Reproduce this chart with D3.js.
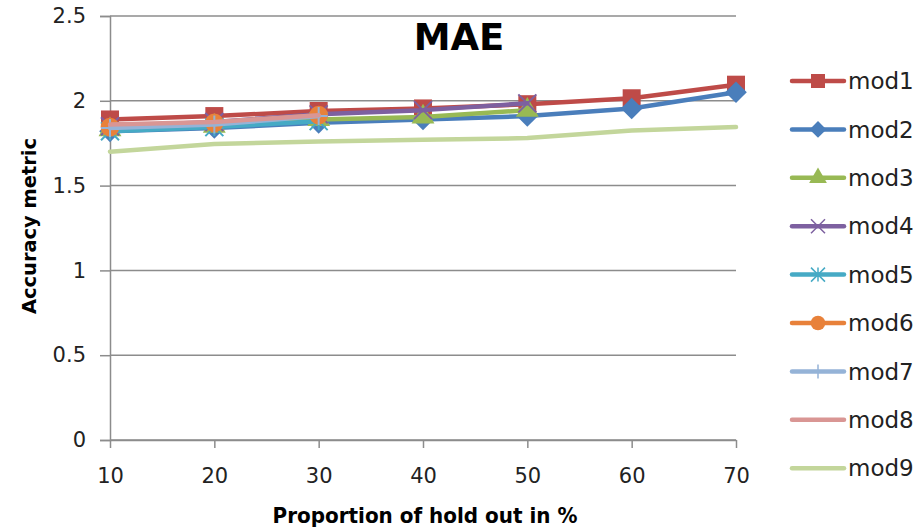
<!DOCTYPE html>
<html>
<head>
<meta charset="utf-8">
<script src="https://cdn.jsdelivr.net/npm/d3@7"></script>
<style>
  body { margin: 0; background: #fff; }
  svg { display: block; font-family: "DejaVu Sans", sans-serif; }
  .tick text { fill: #222; font-size: 21px; font-family: "DejaVu Sans", sans-serif; }
</style>
</head>
<body>
<svg id="chart" width="919" height="530"></svg>
<script>
// hold out proportions (x categories)
const holdOut = [10, 20, 30, 40, 50, 60, 70];
const yTicks = [0, 0.5, 1, 1.5, 2, 2.5];

// MAE per model
const mod1 = [1.89, 1.91, 1.94, 1.955, 1.98, 2.015, 2.095];
const mod2 = [1.82, 1.84, 1.87, 1.89, 1.91, 1.955, 2.05];
const mod3 = [1.83, 1.85, 1.89, 1.905, 1.945];
const mod4 = [1.85, 1.875, 1.92, 1.945, 1.985];
const mod5 = [1.82, 1.845, 1.88];
const mod6 = [1.845, 1.87, 1.915];
const mod7 = [1.84, 1.86, 1.91];
const mod8 = [1.86, 1.875, 1.915];
const mod9 = [1.70, 1.745, 1.76, 1.77, 1.78, 1.825, 1.845];

const seriesNames = ["mod1", "mod2", "mod3", "mod4", "mod5", "mod6", "mod7", "mod8", "mod9"];
const seriesValues = [mod1, mod2, mod3, mod4, mod5, mod6, mod7, mod8, mod9];
const colors = ["#BE4B48", "#4A7EBB", "#98B954", "#7D60A0", "#46AAC5", "#E8813A", "#95B3D7", "#D99694", "#C3D69B"];
const markers = ["square", "diamond", "triangle", "x", "star", "circle", "plus", null, null];

const svg = d3.select("#chart");
const margin = {top: 16, right: 183, bottom: 90, left: 110};
const W = 919, H = 530;

const x = d3.scaleLinear().domain([10, 70]).range([margin.left, W - margin.right]);
const y = d3.scaleLinear().domain([0, 2.5]).range([H - margin.bottom, margin.top]);

// horizontal gridlines + y axis
const yAxis = d3.axisLeft(y).tickValues(yTicks).tickFormat(d3.format("")).tickSize(10).tickPadding(14);
svg.append("g")
    .attr("transform", "translate(" + margin.left + ",0)")
    .call(yAxis)
    .call(g => g.select(".domain").attr("stroke", "#8c8c8c").attr("stroke-width", 1.5))
    .call(g => g.selectAll(".tick line").attr("stroke", "#8c8c8c").attr("stroke-width", 1.5));

svg.append("g")
    .selectAll("line")
    .data(yTicks)
    .join("line")
      .attr("x1", margin.left)
      .attr("x2", W - margin.right)
      .attr("y1", d => y(d))
      .attr("y2", d => y(d))
      .attr("stroke", "#8c8c8c")
      .attr("stroke-width", 1.5);

// x axis
const xAxis = d3.axisBottom(x).tickValues(holdOut).tickSizeInner(8).tickSizeOuter(0).tickPadding(20);
svg.append("g")
    .attr("transform", "translate(0," + y(0) + ")")
    .call(xAxis)
    .call(g => g.select(".domain").attr("stroke", "#8c8c8c").attr("stroke-width", 1.5))
    .call(g => g.selectAll(".tick line").attr("stroke", "#8c8c8c").attr("stroke-width", 1.5));

// marker shapes
function markerPath(type, s) {
    const h = s / 2;
    switch (type) {
        case "square": return d3.symbol(d3.symbolSquare, s * s)();
        case "diamond": { const r = h * 1.2; return `M0,${-r}L${r},0L0,${r}L${-r},0Z`; }
        case "triangle": return d3.symbol(d3.symbolTriangle, s * s * 0.7)();
        case "circle": return d3.symbol(d3.symbolCircle, s * s * 0.85)();
        case "x": return `M${-h},${-h}L${h},${h}M${-h},${h}L${h},${-h}`;
        case "plus": return `M${-h},0L${h},0M0,${-h}L0,${h}`;
        case "star": return `M${-h},${-h}L${h},${h}M${-h},${h}L${h},${-h}M0,${-h}L0,${h}`;
    }
    return null;
}
const isStroked = t => t === "x" || t === "plus" || t === "star";

const line = d3.line().x((d, i) => x(holdOut[i])).y(d => y(d));

const plot = svg.append("g");
seriesValues.forEach((vals, k) => {
    const g = plot.append("g").attr("class", "series " + seriesNames[k]);
    g.append("path")
        .attr("d", line(vals))
        .attr("fill", "none")
        .attr("stroke", colors[k])
        .attr("stroke-width", 4.5)
        .attr("stroke-linejoin", "round")
        .attr("stroke-linecap", "round");
    const m = markers[k];
    if (m) {
        g.selectAll("path.mk")
            .data(vals)
            .join("path")
              .attr("class", "mk")
              .attr("transform", (d, i) => "translate(" + x(holdOut[i]) + "," + y(d) + ")")
              .attr("d", markerPath(m, 18))
              .attr("fill", isStroked(m) ? "none" : colors[k])
              .attr("stroke", isStroked(m) ? colors[k] : "none")
              .attr("stroke-width", 2);
    }
});

// legend
const legend = svg.append("g");
seriesNames.forEach((name, k) => {
    const ly = 81 + k * 48.4;
    const g = legend.append("g").attr("transform", "translate(0," + ly + ")");
    g.append("line")
        .attr("x1", 792).attr("x2", 844)
        .attr("stroke", colors[k])
        .attr("stroke-width", 4.5)
        .attr("stroke-linecap", "round");
    const m = markers[k];
    if (m) {
        g.append("path")
            .attr("transform", "translate(818,0)")
            .attr("d", markerPath(m, 14))
            .attr("fill", isStroked(m) ? "none" : colors[k])
            .attr("stroke", isStroked(m) ? colors[k] : "none")
            .attr("stroke-width", 1.5);
    }
    g.append("text")
        .attr("x", 848)
        .attr("dy", "0.36em")
        .attr("font-size", 23)
        .attr("fill", "#222")
        .text(name);
});

// titles
svg.append("text")
    .attr("x", 459).attr("y", 50)
    .attr("text-anchor", "middle")
    .attr("font-size", 37)
    .attr("font-weight", "bold")
    .text("MAE");

svg.append("text")
    .attr("transform", "translate(36,226) rotate(-90)")
    .attr("text-anchor", "middle")
    .attr("font-size", 20)
    .attr("font-weight", "bold")
    .attr("textLength", 176)
    .attr("lengthAdjust", "spacingAndGlyphs")
    .text("Accuracy metric");

svg.append("text")
    .attr("x", 425).attr("y", 523)
    .attr("text-anchor", "middle")
    .attr("font-size", 22)
    .attr("font-weight", "bold")
    .attr("textLength", 305)
    .attr("lengthAdjust", "spacingAndGlyphs")
    .text("Proportion of hold out in %");
</script>
</body>
</html>
